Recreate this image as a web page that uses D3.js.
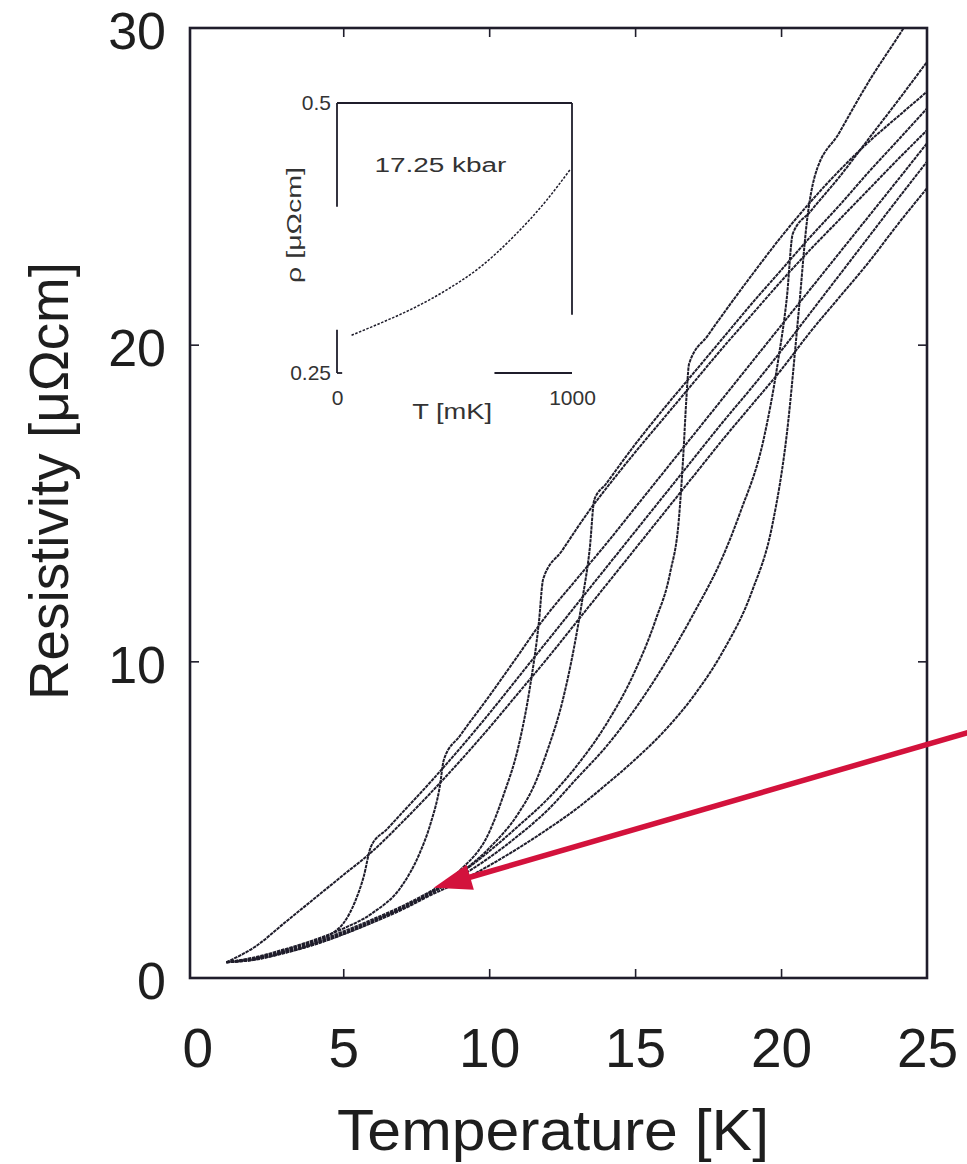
<!DOCTYPE html>
<html>
<head>
<meta charset="utf-8">
<script src="https://cdn.jsdelivr.net/npm/d3@7"></script>
<style>
body { margin: 0; background: #fff; }
svg { display: block; font-family: "Liberation Sans", Arial, Helvetica, sans-serif; }
</style>
</head>
<body>
<svg></svg>
<script>
// resistivity curves, one per pressure: [T (K), rho (uOhm cm)]
var curveA = [[1.0,0.5],[2,0.63],[3,0.88],[4,1.17],[4.6,1.4],[5.0,1.72],[5.4,2.4],[5.7,3.2],[5.95,4.15],[6.5,4.7],[7,5.2],[8,6.2],[9,7.25],[10,8.35],[11,9.5],[12,10.65],[13,11.8],[14,12.95],[15,14.1],[16,15.25],[17,16.4],[18,17.55],[19,18.65],[20,19.8],[21,21.0],[22,22.2],[23,23.4],[24,24.6],[25,25.78]];
var curveB = [[1.0,0.5],[2,0.66],[3,0.91],[4,1.2],[5,1.56],[6,2.05],[7,2.9],[7.6,3.9],[8.0,4.9],[8.3,6.0],[8.45,6.9],[9,7.65],[10,8.9],[11,10.2],[11.8,11.25],[13,12.6],[14,13.7],[15,14.85],[16,16.0],[17,17.15],[18,18.3],[19,19.45],[20,20.6],[21,21.75],[22,22.9],[23,24.05],[24,25.2],[25,26.36]];
var curveC = [[1.0,0.5],[2,0.6],[3,0.82],[4,1.09],[5,1.42],[6,1.8],[7,2.22],[8,2.72],[9,3.4],[10,4.6],[10.5,5.8],[11.0,7.3],[11.4,9.2],[11.7,11.2],[11.85,12.6],[12.5,13.5],[13.5,14.85],[14,15.45],[15,16.6],[16,17.7],[17,18.8],[18,19.9],[19,20.95],[20,22.0],[21,23.0],[22,23.95],[23,24.9],[24,25.85],[25,26.77]];
var curveD = [[1.0,0.5],[2,0.58],[3,0.79],[4,1.05],[5,1.38],[6,1.76],[7,2.18],[8,2.66],[9,3.3],[10,4.1],[11,5.2],[11.5,6.0],[12,7.2],[12.5,8.7],[12.9,10.4],[13.2,12.0],[13.45,13.6],[13.6,15.1],[14,15.6],[15,16.85],[16,18.0],[17,19.1],[18,20.2],[19,21.3],[20,22.35],[21,23.4],[22,24.4],[23,25.45],[24,26.45],[25,27.46]];
var curveE = [[1.0,0.5],[2,0.62],[3,0.85],[4,1.13],[5,1.47],[6,1.85],[7,2.26],[8,2.74],[9,3.3],[10,4.0],[11,4.8],[12,5.65],[13,6.7],[14,8.0],[15,9.7],[15.7,11.3],[16.2,12.8],[16.5,14.5],[16.65,16.5],[16.75,18.2],[16.85,19.4],[17.5,20.3],[18,20.95],[19,22.2],[20,23.4],[21,24.5],[22,25.5],[23,26.4],[24,27.2],[25,27.99]];
var curveF = [[1.0,0.5],[2,0.6],[3,0.81],[4,1.07],[5,1.4],[6,1.78],[7,2.2],[8,2.68],[9,3.2],[10,3.8],[11,4.5],[12,5.3],[13,6.3],[14,7.3],[15,8.5],[16,9.9],[17,11.5],[18,13.3],[18.6,14.7],[19.4,17.0],[19.9,19.5],[20.2,21.5],[20.4,23.5],[21,24.2],[22,25.3],[23,26.5],[24,27.7],[25,28.93]];
var curveG = [[1.0,0.5],[2,0.59],[3,0.8],[4,1.06],[5,1.38],[6,1.75],[7,2.15],[8,2.62],[9,3.05],[10,3.55],[11,4.1],[12,4.7],[13,5.35],[14,6.1],[15,6.9],[16,7.8],[17,8.9],[18,10.3],[19,12.2],[19.7,14.3],[20.2,17.2],[20.6,21.0],[20.9,24.0],[21.15,25.3],[22,26.7],[23,28.3],[24.2,30.0],[25,31.2]];
var curveH = [[1.0,0.5],[2,1.0],[3,1.75],[4,2.5],[5,3.25],[6,4.0],[7,4.9],[8,5.85],[9,6.85],[10,7.9],[11,9.0],[12,10.1],[13,11.25],[14,12.4],[15,13.55],[16,14.7],[17,15.85],[18,17.0],[19,18.1],[20,19.2],[21,20.4],[22,21.5],[23,22.6],[24,23.8],[25,24.94]];

var curves = [curveA, curveB, curveC, curveD, curveE, curveF, curveG, curveH];

var xTicks = [0, 5, 10, 15, 20, 25];
var yTicks = [0, 10, 20, 30];

// inset, 17.25 kbar: T in mK, rho in uOhm cm
var insetT   = [62, 183, 325, 467, 609, 750, 892, 991];
var insetRho = [0.285, 0.296, 0.310, 0.327, 0.348, 0.376, 0.410, 0.438];
var insetXTicks = [0, 1000];
var insetYTicks = [0.25, 0.5];

// red arrow annotation (data units)
var arrowTail = [26.4, 7.75], arrowTip = [8.1, 2.85];

var width = 967, height = 1164;
var svg = d3.select('svg').attr('width', width).attr('height', height);

var x = d3.scaleLinear().domain([-0.25, 25]).range([190, 927]);
var y = d3.scaleLinear().domain([0, 30]).range([978, 28]);

var ink = '#1f1d2b';

svg.append('clipPath').attr('id', 'plot')
  .append('rect')
  .attr('x', x(-0.25)).attr('y', y(30))
  .attr('width', x(25) - x(-0.25)).attr('height', y(0) - y(30));

var line = d3.line()
  .x(function(d) { return x(d[0]); })
  .y(function(d) { return y(d[1]); })
  .curve(d3.curveMonotoneX);

svg.append('g').attr('clip-path', 'url(#plot)')
  .selectAll('path.curve')
  .data(curves)
  .enter().append('path')
  .attr('class', 'curve')
  .attr('d', line)
  .attr('fill', 'none')
  .attr('stroke', ink)
  .attr('stroke-width', 2)
  .attr('stroke-dasharray', '3.5,0.8');

// frame
svg.append('rect')
  .attr('x', x(-0.25)).attr('y', y(30))
  .attr('width', x(25) - x(-0.25)).attr('height', y(0) - y(30))
  .attr('fill', 'none').attr('stroke', ink).attr('stroke-width', 2.6);

// inner ticks on all four sides
var inner = [5, 10, 15, 20];
svg.append('g').attr('transform', 'translate(0,' + y(0) + ')')
  .call(d3.axisBottom(x).tickValues(inner).tickSize(-9).tickFormat(''));
svg.append('g').attr('transform', 'translate(0,' + y(30) + ')')
  .call(d3.axisTop(x).tickValues(inner).tickSize(-9).tickFormat(''));
svg.append('g').attr('transform', 'translate(' + x(-0.25) + ',0)')
  .call(d3.axisLeft(y).tickValues([10, 20]).tickSize(-9).tickFormat(''));
svg.append('g').attr('transform', 'translate(' + x(25) + ',0)')
  .call(d3.axisRight(y).tickValues([10, 20]).tickSize(-9).tickFormat(''));

// tick labels
var xLab = svg.append('g').attr('transform', 'translate(0,' + y(0) + ')')
  .call(d3.axisBottom(x).tickValues(xTicks).tickSize(0).tickPadding(50).tickFormat(d3.format('d')));
var yLab = svg.append('g').attr('transform', 'translate(' + x(-0.25) + ',0)')
  .call(d3.axisLeft(y).tickValues(yTicks).tickSize(0).tickPadding(24).tickFormat(d3.format('d')));

svg.selectAll('.domain').remove();
svg.selectAll('.tick line').attr('stroke', ink).attr('stroke-width', 1.6);
xLab.selectAll('text').attr('font-size', 55);
yLab.selectAll('text').attr('font-size', 52).attr('dy', '0.4em');
[xLab, yLab].forEach(function(g) {
  g.selectAll('text').attr('fill', '#1e1e1e')
    .attr('font-family', '"Liberation Sans", Arial, sans-serif');
});

// axis titles
svg.append('text')
  .attr('x', 553).attr('y', 1150)
  .attr('text-anchor', 'middle').attr('font-size', 57).attr('fill', '#1e1e1e')
  .attr('textLength', 432).attr('lengthAdjust', 'spacingAndGlyphs')
  .text('Temperature [K]');
svg.append('text')
  .attr('transform', 'translate(68,' + 481 + ') rotate(-90)')
  .attr('text-anchor', 'middle').attr('font-size', 55).attr('fill', '#1e1e1e')
  .attr('textLength', 438).attr('lengthAdjust', 'spacingAndGlyphs')
  .text('Resistivity [\u03bc\u03a9cm]');

// ---- inset ----
var ix = d3.scaleLinear().domain([0, 1000]).range([337, 572]);
var iy = d3.scaleLinear().domain([0.25, 0.5]).range([373, 103]);
var inset = svg.append('g');

var insetFrame = [
  [[0, 0.5], [1000, 0.5]],
  [[1000, 0.5], [1000, 0.304]],
  [[0, 0.5], [0, 0.404]],
  [[0, 0.29], [0, 0.25]],
  [[0, 0.25], [22, 0.25]],
  [[670, 0.25], [1000, 0.25]]
];
inset.selectAll('line.frame')
  .data(insetFrame)
  .enter().append('line')
  .attr('class', 'frame')
  .attr('x1', function(d) { return ix(d[0][0]); })
  .attr('y1', function(d) { return iy(d[0][1]); })
  .attr('x2', function(d) { return ix(d[1][0]); })
  .attr('y2', function(d) { return iy(d[1][1]); })
  .attr('stroke', ink).attr('stroke-width', 1.8);

var insetLine = d3.line()
  .x(function(d, i) { return ix(insetT[i]); })
  .y(function(d) { return iy(d); })
  .curve(d3.curveMonotoneX);
inset.append('path')
  .attr('d', insetLine(insetRho))
  .attr('fill', 'none').attr('stroke', ink)
  .attr('stroke-width', 1.5).attr('stroke-dasharray', '2.5,1.5');

inset.append('g').attr('transform', 'translate(' + ix(0) + ',0)')
  .call(d3.axisLeft(iy).tickValues(insetYTicks).tickSize(0).tickPadding(6)
    .tickFormat(function(d) { return d === 0.5 ? '0.5' : '0.25'; }));
inset.append('g').attr('transform', 'translate(0,' + iy(0.25) + ')')
  .call(d3.axisBottom(ix).tickValues(insetXTicks).tickSize(0).tickPadding(17)
    .tickFormat(d3.format('d')));
inset.selectAll('.domain').remove();
inset.selectAll('.tick text').attr('font-size', 21).attr('fill', '#333')
  .attr('font-family', '"Liberation Sans", Arial, sans-serif');

inset.append('text')
  .attr('x', ix(440)).attr('y', iy(0.436))
  .attr('text-anchor', 'middle').attr('font-size', 20).attr('fill', '#333')
  .attr('textLength', 132).attr('lengthAdjust', 'spacingAndGlyphs')
  .text('17.25 kbar');
inset.append('text')
  .attr('x', ix(490)).attr('y', 419)
  .attr('text-anchor', 'middle').attr('font-size', 22).attr('fill', '#333')
  .attr('textLength', 80).attr('lengthAdjust', 'spacingAndGlyphs')
  .text('T [mK]');
inset.append('text')
  .attr('transform', 'translate(301,225) rotate(-90)')
  .attr('text-anchor', 'middle').attr('font-size', 20).attr('fill', '#333')
  .attr('textLength', 116).attr('lengthAdjust', 'spacingAndGlyphs')
  .text('\u03c1 [\u03bc\u03a9cm]');

// ---- red arrow ----
var ax0 = x(arrowTail[0]), ay0 = y(arrowTail[1]);
var ax1 = x(arrowTip[0]), ay1 = y(arrowTip[1]);
var ang = Math.atan2(ay1 - ay0, ax1 - ax0);
var headLen = 38, headHalf = 13;
var bx = ax1 - headLen * Math.cos(ang), by = ay1 - headLen * Math.sin(ang);
svg.append('line')
  .attr('x1', ax0).attr('y1', ay0)
  .attr('x2', bx + 4 * Math.cos(ang)).attr('y2', by + 4 * Math.sin(ang))
  .attr('stroke', '#d3123c').attr('stroke-width', 5.5);
svg.append('path')
  .attr('d', 'M' + ax1 + ',' + ay1 +
    'L' + (bx + headHalf * Math.sin(ang)) + ',' + (by - headHalf * Math.cos(ang)) +
    'L' + (bx - headHalf * Math.sin(ang)) + ',' + (by + headHalf * Math.cos(ang)) + 'Z')
  .attr('fill', '#d3123c');
</script>
</body>
</html>
